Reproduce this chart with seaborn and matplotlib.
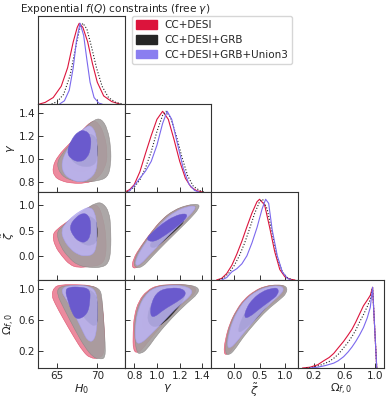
import numpy as np
import matplotlib
matplotlib.use("Agg")
import matplotlib.pyplot as plt
import seaborn as sns
from matplotlib.patches import Patch, PathPatch
from matplotlib.path import Path

# parameters, ranges, ticks
labels = [r"$H_0$", r"$\gamma$", r"$\tilde{\zeta}$", r"$\Omega_{f,0}$"]
limits = [(62.6, 73.4), (0.715, 1.475), (-0.46, 1.25), (-0.015, 1.12)]
ticks = [[65, 70], [0.8, 1.0, 1.2, 1.4], [0.0, 0.5, 1.0], [0.2, 0.6, 1.0]]
ticklabels = [["65", "70"], ["0.8", "1.0", "1.2", "1.4"], ["0.0", "0.5", "1.0"], ["0.2", "0.6", "1.0"]]
names = ["CC+DESI", "CC+DESI+GRB", "CC+DESI+GRB+Union3"]

# 1D marginals (x, P/Pmax)
h0_red_x = [62.8, 63.5, 64.5, 65.5, 66.3, 67.0, 67.5, 67.75, 68.2, 68.8, 69.4, 70.0, 70.8, 71.8, 72.8]
h0_red_p = [0.0, 0.02, 0.08, 0.22, 0.45, 0.77, 0.95, 1.0, 0.95, 0.77, 0.5, 0.27, 0.1, 0.03, 0.0]
h0_blk_x = [64.3, 65.0, 65.8, 66.6, 67.3, 67.8, 68.2, 68.7, 69.3, 69.9, 70.6, 71.4, 72.3, 73.2]
h0_blk_p = [0.0, 0.03, 0.12, 0.35, 0.7, 0.93, 1.0, 0.93, 0.7, 0.45, 0.22, 0.08, 0.02, 0.0]
h0_blu_x = [65.3, 65.9, 66.5, 67.0, 67.4, 67.85, 68.3, 68.7, 69.1, 69.6, 70.2, 70.6]
h0_blu_p = [0.0, 0.04, 0.17, 0.45, 0.78, 1.0, 0.85, 0.55, 0.27, 0.08, 0.01, 0.0]

gam_red_x = [0.72, 0.76, 0.80, 0.85, 0.90, 0.95, 1.00, 1.05, 1.10, 1.15, 1.20, 1.25, 1.30, 1.35, 1.40]
gam_red_p = [0.0, 0.03, 0.09, 0.25, 0.48, 0.7, 0.9, 1.0, 0.9, 0.65, 0.38, 0.17, 0.06, 0.015, 0.0]
gam_blk_x = [0.74, 0.80, 0.85, 0.90, 0.95, 1.00, 1.05, 1.08, 1.12, 1.17, 1.22, 1.27, 1.32, 1.38, 1.42]
gam_blk_p = [0.0, 0.06, 0.15, 0.3, 0.5, 0.75, 0.95, 1.0, 0.92, 0.7, 0.43, 0.2, 0.07, 0.015, 0.0]
gam_blu_x = [0.75, 0.80, 0.85, 0.90, 0.95, 1.00, 1.05, 1.09, 1.13, 1.18, 1.23, 1.28, 1.33, 1.37]
gam_blu_p = [0.0, 0.08, 0.17, 0.26, 0.38, 0.58, 0.85, 1.0, 0.9, 0.6, 0.3, 0.1, 0.02, 0.0]

zet_red_x = [-0.35, -0.25, -0.15, -0.05, 0.05, 0.15, 0.25, 0.35, 0.45, 0.5, 0.6, 0.7, 0.8, 0.9, 1.0, 1.1, 1.2]
zet_red_p = [0.0, 0.02, 0.08, 0.18, 0.32, 0.48, 0.66, 0.83, 0.97, 1.0, 0.93, 0.65, 0.35, 0.13, 0.04, 0.01, 0.0]
zet_blk_x = [-0.3, -0.2, -0.1, 0.0, 0.1, 0.2, 0.3, 0.4, 0.5, 0.56, 0.65, 0.75, 0.85, 0.95, 1.05, 1.15]
zet_blk_p = [0.0, 0.03, 0.09, 0.18, 0.3, 0.45, 0.63, 0.82, 0.97, 1.0, 0.88, 0.58, 0.28, 0.1, 0.03, 0.0]
zet_blu_x = [-0.25, -0.15, -0.05, 0.05, 0.15, 0.25, 0.35, 0.45, 0.55, 0.62, 0.68, 0.75, 0.85, 0.95, 1.05, 1.12]
zet_blu_p = [0.0, 0.03, 0.1, 0.14, 0.2, 0.3, 0.46, 0.65, 0.88, 1.0, 0.95, 0.62, 0.3, 0.1, 0.02, 0.0]

om_red_x = [0.05, 0.15, 0.25, 0.33, 0.4, 0.46, 0.52, 0.59, 0.65, 0.7, 0.75, 0.8, 0.85, 0.9, 0.94, 0.97, 1.025]
om_red_p = [0.0, 0.01, 0.04, 0.09, 0.13, 0.18, 0.25, 0.33, 0.41, 0.48, 0.57, 0.67, 0.77, 0.84, 0.9, 1.0, 0.0]
om_blk_x = [0.1, 0.2, 0.3, 0.4, 0.46, 0.52, 0.59, 0.65, 0.7, 0.75, 0.8, 0.85, 0.9, 0.94, 0.97, 1.025]
om_blk_p = [0.0, 0.01, 0.04, 0.08, 0.12, 0.17, 0.25, 0.32, 0.39, 0.47, 0.57, 0.66, 0.76, 0.85, 1.0, 0.0]
om_blu_x = [0.15, 0.25, 0.35, 0.46, 0.52, 0.59, 0.65, 0.7, 0.75, 0.8, 0.85, 0.9, 0.94, 0.97, 1.025]
om_blu_p = [0.0, 0.01, 0.03, 0.06, 0.09, 0.14, 0.2, 0.26, 0.33, 0.41, 0.5, 0.62, 0.75, 1.0, 0.0]

# 2D contour outlines (68% / 95%)
hg_red95 = [(64.4, 0.93), (64.6, 0.85), (65.5, 0.81), (66.8, 0.79), (68.5, 0.79), (69.9, 0.82), (71.0, 0.92),
            (71.3, 1.05), (70.9, 1.21), (70.1, 1.32), (69.3, 1.33), (68.0, 1.24), (66.5, 1.13), (65.1, 1.03)]
hg_red68 = [(65.8, 1.0), (66.5, 0.92), (67.8, 0.88), (69.0, 0.9), (69.8, 0.97), (69.8, 1.12), (69.2, 1.2),
            (68.0, 1.18), (66.8, 1.1)]
hg_blk95 = [(64.9, 0.95), (65.6, 0.85), (67.0, 0.81), (68.5, 0.80), (70.0, 0.81), (71.3, 0.84), (71.7, 0.95),
            (71.7, 1.1), (71.3, 1.26), (70.5, 1.35), (69.6, 1.34), (68.3, 1.26), (66.8, 1.14), (65.5, 1.04)]
hg_blk68 = [(66.5, 1.02), (67.2, 0.96), (68.3, 0.93), (69.5, 0.94), (70.0, 0.99), (70.0, 1.15), (69.6, 1.21),
            (68.5, 1.22), (67.3, 1.16)]
hg_blu95 = [(65.5, 0.97), (65.8, 0.87), (66.8, 0.82), (67.8, 0.80), (69.0, 0.82), (69.95, 0.9), (70.0, 1.05),
            (69.95, 1.2), (69.3, 1.29), (68.6, 1.28), (67.5, 1.21), (66.3, 1.09)]
hg_blu68 = [(66.2, 1.06), (66.7, 1.0), (67.8, 0.97), (68.8, 1.01), (69.2, 1.1), (69.2, 1.2), (68.5, 1.25),
            (67.6, 1.24), (66.7, 1.16)]

hz_red95 = [(64.4, 0.42), (64.7, 0.2), (65.6, 0.0), (66.6, -0.17), (67.6, -0.22), (69.0, -0.2), (70.5, -0.17),
            (71.1, 0.0), (71.1, 0.4), (70.7, 0.76), (70.1, 1.0), (69.3, 0.99), (67.8, 0.83), (66.2, 0.67), (65.0, 0.53)]
hz_red68 = [(65.8, 0.5), (66.5, 0.3), (67.6, 0.12), (68.8, 0.08), (69.8, 0.2), (69.9, 0.55), (69.4, 0.8),
            (68.3, 0.82), (67.0, 0.7)]
hz_blk95 = [(64.9, 0.45), (65.4, 0.19), (66.4, -0.02), (67.5, -0.17), (69.0, -0.22), (70.5, -0.22), (71.4, -0.14),
            (71.7, 0.1), (71.7, 0.55), (71.5, 0.86), (70.7, 1.04), (69.8, 1.04), (68.5, 0.91), (66.8, 0.73), (65.5, 0.57)]
hz_blk68 = [(66.5, 0.55), (67.2, 0.36), (68.3, 0.22), (69.4, 0.21), (70.0, 0.3), (70.0, 0.62), (69.6, 0.75),
            (68.5, 0.8), (67.3, 0.72)]
hz_blu95 = [(65.5, 0.5), (65.8, 0.32), (66.6, 0.15), (67.5, 0.04), (68.5, 0.0), (69.6, 0.04), (69.95, 0.25),
            (69.95, 0.6), (69.7, 0.86), (69.1, 0.96), (68.3, 0.92), (67.0, 0.79), (66.0, 0.63)]
hz_blu68 = [(66.5, 0.58), (67.0, 0.39), (67.8, 0.28), (68.6, 0.27), (69.15, 0.4), (69.2, 0.62), (69.0, 0.78),
            (68.3, 0.85), (67.3, 0.76)]

ho_red95 = [(64.3, 0.92), (64.6, 1.03), (65.5, 1.06), (67.5, 1.06), (69.3, 1.05), (70.3, 0.99), (70.7, 0.75),
            (70.9, 0.45), (70.9, 0.18), (70.3, 0.11), (69.1, 0.11), (68.2, 0.2), (67.1, 0.38), (65.7, 0.63), (64.7, 0.82)]
ho_red68 = [(65.5, 0.95), (66.0, 1.02), (68.0, 1.03), (69.5, 0.98), (69.9, 0.8), (69.8, 0.5), (69.3, 0.42),
            (68.5, 0.48), (67.3, 0.65), (66.2, 0.85)]
ho_blk95 = [(64.9, 0.95), (65.3, 1.04), (67.0, 1.05), (69.0, 1.05), (70.3, 1.01), (70.6, 0.9), (70.8, 0.6),
            (71.0, 0.3), (71.0, 0.11), (70.3, 0.1), (69.5, 0.12), (68.4, 0.26), (67.2, 0.48), (65.9, 0.74)]
ho_blk68 = [(66.5, 0.97), (67.0, 1.02), (68.5, 1.02), (69.8, 0.95), (70.05, 0.8), (70.05, 0.58), (69.7, 0.52),
            (69.0, 0.56), (68.0, 0.68), (67.1, 0.85)]
ho_blu95 = [(65.5, 0.97), (65.9, 1.04), (67.5, 1.05), (69.0, 1.04), (69.9, 0.97), (70.05, 0.75), (69.95, 0.5),
            (69.6, 0.33), (68.8, 0.33), (68.1, 0.48), (67.2, 0.67), (66.2, 0.86)]
ho_blu68 = [(66.0, 0.98), (66.4, 1.03), (68.0, 1.03), (69.1, 1.0), (69.1, 0.85), (68.8, 0.68), (67.5, 0.6),
            (66.8, 0.7), (66.3, 0.87)]

gz_red95 = [(0.78, -0.24), (0.79, -0.05), (0.86, 0.2), (0.95, 0.47), (1.04, 0.71), (1.14, 0.88), (1.25, 0.98),
            (1.33, 1.0), (1.35, 0.92), (1.27, 0.72), (1.16, 0.49), (1.04, 0.21), (0.93, -0.02), (0.84, -0.21)]
gz_red68 = [(0.88, 0.18), (0.94, 0.35), (1.03, 0.55), (1.13, 0.71), (1.22, 0.8), (1.24, 0.72), (1.15, 0.55),
            (1.04, 0.34), (0.94, 0.14)]
gz_blk95 = [(0.80, -0.22), (0.80, -0.05), (0.87, 0.22), (0.96, 0.49), (1.05, 0.73), (1.15, 0.9), (1.27, 1.0),
            (1.37, 1.02), (1.37, 0.93), (1.3, 0.75), (1.19, 0.51), (1.07, 0.25), (0.96, 0.0), (0.87, -0.22)]
gz_blk68 = [(0.93, 0.2), (0.97, 0.32), (1.06, 0.5), (1.16, 0.66), (1.23, 0.73), (1.24, 0.67), (1.17, 0.52),
            (1.07, 0.32), (0.98, 0.15)]
gz_blu95 = [(0.81, -0.19), (0.82, -0.03), (0.88, 0.2), (0.97, 0.47), (1.06, 0.7), (1.16, 0.87), (1.27, 0.97),
            (1.34, 0.98), (1.33, 0.9), (1.26, 0.74), (1.15, 0.51), (1.04, 0.27), (0.94, 0.05), (0.86, -0.15)]
gz_blu68 = [(0.9, 0.33), (0.96, 0.47), (1.05, 0.64), (1.15, 0.78), (1.25, 0.84), (1.27, 0.77), (1.19, 0.6),
            (1.08, 0.42), (0.97, 0.27)]

go_red95 = [(0.79, 0.2), (0.79, 0.45), (0.80, 0.66), (0.84, 0.85), (0.91, 0.98), (1.0, 1.05), (1.12, 1.06),
            (1.25, 1.06), (1.34, 1.03), (1.34, 0.95), (1.25, 0.84), (1.11, 0.64), (0.98, 0.43), (0.89, 0.26), (0.84, 0.18)]
go_red68 = [(0.86, 0.5), (0.89, 0.75), (0.96, 0.93), (1.08, 1.02), (1.22, 1.01), (1.26, 0.93), (1.16, 0.78),
            (1.02, 0.58), (0.92, 0.46)]
go_blk95 = [(0.82, 0.18), (0.80, 0.45), (0.81, 0.66), (0.85, 0.85), (0.92, 0.98), (1.02, 1.05), (1.15, 1.06),
            (1.28, 1.06), (1.37, 1.02), (1.36, 0.94), (1.27, 0.83), (1.13, 0.63), (1.0, 0.41), (0.91, 0.22), (0.86, 0.17)]
go_blk68 = [(0.91, 0.6), (0.94, 0.8), (1.01, 0.95), (1.12, 1.0), (1.23, 0.99), (1.25, 0.9), (1.18, 0.75),
            (1.06, 0.56), (0.97, 0.5)]
go_blu95 = [(0.81, 0.31), (0.81, 0.55), (0.84, 0.76), (0.89, 0.91), (0.97, 1.02), (1.1, 1.05), (1.22, 1.05),
            (1.31, 1.0), (1.3, 0.92), (1.19, 0.79), (1.06, 0.59), (0.94, 0.41), (0.86, 0.3)]
go_blu68 = [(0.94, 0.66), (0.95, 0.83), (1.01, 0.98), (1.12, 1.02), (1.23, 1.01), (1.26, 0.93), (1.18, 0.84),
            (1.06, 0.74), (0.98, 0.64)]

zo_red95 = [(-0.21, 0.18), (-0.18, 0.35), (-0.09, 0.56), (0.04, 0.73), (0.19, 0.87), (0.4, 0.98), (0.6, 1.04),
            (0.85, 1.06), (1.01, 1.04), (1.01, 0.96), (0.86, 0.87), (0.61, 0.74), (0.36, 0.57), (0.13, 0.39),
            (-0.04, 0.22), (-0.15, 0.15)]
zo_red68 = [(0.0, 0.45), (0.08, 0.62), (0.22, 0.78), (0.42, 0.9), (0.65, 0.98), (0.82, 1.0), (0.8, 0.9),
            (0.55, 0.74), (0.3, 0.58), (0.1, 0.45)]
zo_blk95 = [(-0.18, 0.17), (-0.16, 0.35), (-0.08, 0.56), (0.05, 0.73), (0.21, 0.87), (0.42, 0.98), (0.62, 1.04),
            (0.87, 1.06), (1.04, 1.04), (1.04, 0.95), (0.89, 0.86), (0.64, 0.73), (0.39, 0.55), (0.16, 0.37),
            (0.01, 0.22), (-0.1, 0.15)]
zo_blk68 = [(0.07, 0.45), (0.13, 0.6), (0.26, 0.75), (0.46, 0.88), (0.66, 0.96), (0.8, 0.98), (0.78, 0.9),
            (0.56, 0.71), (0.32, 0.55), (0.14, 0.45)]
zo_blu95 = [(-0.14, 0.26), (-0.11, 0.42), (-0.03, 0.59), (0.09, 0.75), (0.24, 0.88), (0.45, 0.98), (0.65, 1.03),
            (0.88, 1.05), (0.99, 1.01), (0.91, 0.93), (0.66, 0.79), (0.41, 0.61), (0.19, 0.44), (0.03, 0.31), (-0.08, 0.24)]
zo_blu68 = [(0.19, 0.63), (0.24, 0.76), (0.37, 0.88), (0.55, 0.97), (0.72, 1.01), (0.87, 1.02), (0.87, 0.93),
            (0.71, 0.85), (0.5, 0.75), (0.3, 0.64)]

# colours
line_cols = ["#DC143C", "#222222", "#7B68EE"]
line_styles = ["-", ":", "-"]
fill68 = ["#DC143C", "#2a2a2a", "#6A5ACD"]
fill95 = ["#EC8A9E", "#a39e9e", "#BCB4F2"]
alpha95 = [1.0, 0.9, 0.88]
edge95 = ["#E0506C", "#8a8686", "#a89ff0"]
legend_cols = ["#DC143C", "#262626", "#8A7EF0"]

diag = {
    0: [(h0_red_x, h0_red_p), (h0_blk_x, h0_blk_p), (h0_blu_x, h0_blu_p)],
    1: [(gam_red_x, gam_red_p), (gam_blk_x, gam_blk_p), (gam_blu_x, gam_blu_p)],
    2: [(zet_red_x, zet_red_p), (zet_blk_x, zet_blk_p), (zet_blu_x, zet_blu_p)],
    3: [(om_red_x, om_red_p), (om_blk_x, om_blk_p), (om_blu_x, om_blu_p)],
}
contours = {
    (1, 0): [(hg_red95, hg_red68), (hg_blk95, hg_blk68), (hg_blu95, hg_blu68)],
    (2, 0): [(hz_red95, hz_red68), (hz_blk95, hz_blk68), (hz_blu95, hz_blu68)],
    (3, 0): [(ho_red95, ho_red68), (ho_blk95, ho_blk68), (ho_blu95, ho_blu68)],
    (2, 1): [(gz_red95, gz_red68), (gz_blk95, gz_blk68), (gz_blu95, gz_blu68)],
    (3, 1): [(go_red95, go_red68), (go_blk95, go_blk68), (go_blu95, go_blu68)],
    (3, 2): [(zo_red95, zo_red68), (zo_blk95, zo_blk68), (zo_blu95, zo_blu68)],
}

sns.set_style("ticks")
plt.rcParams["font.family"] = ["DejaVu Sans"]
plt.rcParams["mathtext.fontset"] = "dejavusans"

W, H = 389, 400
fig = plt.figure(figsize=(W / 100, H / 100), dpi=100)
col_left = [38, 124.5, 211, 297.5]
row_top = [16, 104, 192, 280]
pw, ph = 86.5, 88
ytop = 1.09


def smooth_region(pts):
    # closed outline drawn as quadratic Bezier pieces through edge midpoints
    p = np.array(pts, dtype=float)
    n = len(p)
    mids = (p + np.roll(p, -1, axis=0)) / 2
    verts = [mids[-1]]
    codes = [Path.MOVETO]
    for i in range(n):
        verts += [p[i], mids[i]]
        codes += [Path.CURVE3, Path.CURVE3]
    verts.append(mids[-1])
    codes.append(Path.CLOSEPOLY)
    return Path(np.array(verts), codes)


def style_axis(ax):
    for sp in ax.spines.values():
        sp.set_linewidth(0.8)
        sp.set_color("#333333")
    ax.tick_params(direction="in", length=3.5, width=0.7, color="#333333",
                   labelsize=7.5, pad=2, top=False, right=False)


for i in range(4):
    for j in range(i + 1):
        ax = fig.add_axes([col_left[j] / W, (H - row_top[i] - ph) / H, pw / W, ph / H])
        style_axis(ax)
        ax.set_xlim(limits[j])
        ax.set_xticks(ticks[j])
        if i == j:
            for k, (xs, ps) in enumerate(diag[i]):
                sns.lineplot(x=xs, y=ps, ax=ax, color=line_cols[k], lw=0.8,
                             linestyle=line_styles[k], estimator=None, sort=False)
            ax.set_ylim(0, ytop)
            if i > 0:
                lo, hi = limits[i]
                ax.set_yticks([(t - lo) / (hi - lo) * ytop for t in ticks[i]])
            else:
                ax.set_yticks([])
            ax.set_yticklabels([])
            ax.set_ylabel("")
        else:
            for k, (p95, p68) in enumerate(contours[(i, j)]):
                ax.add_patch(PathPatch(smooth_region(p95), fc=fill95[k], ec=edge95[k],
                                       lw=0.4, alpha=alpha95[k]))
                ax.add_patch(PathPatch(smooth_region(p68), fc=fill68[k], ec=fill68[k], lw=0.3))
            ax.set_ylim(limits[i])
            ax.set_yticks(ticks[i])
            if j == 0:
                ax.set_yticklabels(ticklabels[i])
                ax.set_ylabel(labels[i], fontsize=8.2, labelpad=1.5)
            else:
                ax.set_yticklabels([])
        if i == 3:
            ax.set_xticklabels(ticklabels[j])
            ax.set_xlabel(labels[j], fontsize=8.2, labelpad=1)
        else:
            ax.set_xticklabels([])
            ax.set_xlabel("")

fig.text(20 / W, 1 - 9.5 / H, r"Exponential $f(Q)$ constraints (free $\gamma$)",
         fontsize=7.6, ha="left", va="center")

handles = [Patch(facecolor=c, edgecolor=c) for c in legend_cols]
fig.legend(handles, names, loc="upper left", bbox_to_anchor=(132 / W, 1 - 16 / H),
           fontsize=7.5, frameon=True, handlelength=2.0, handleheight=0.9,
           borderpad=0.4, labelspacing=0.45, handletextpad=0.7, borderaxespad=0,
           edgecolor="#cccccc", fancybox=True)

fig.savefig("out.png", dpi=100)
